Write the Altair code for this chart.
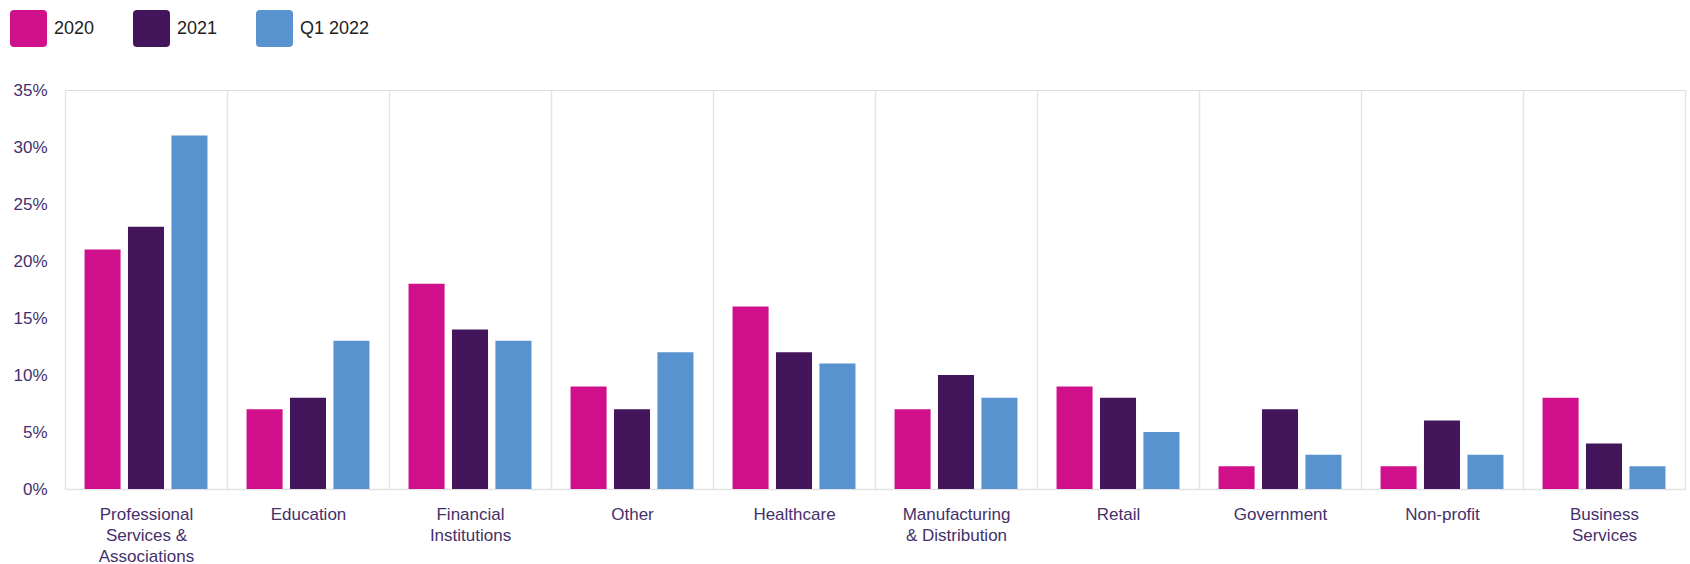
import altair as alt
import pandas as pd

categories = [
    "Professional Services & Associations", "Education", "Financial Institutions",
    "Other", "Healthcare", "Manufacturing & Distribution", "Retail",
    "Government", "Non-profit", "Business Services",
]
label_lines = {
    "Professional Services & Associations": ["Professional", "Services &", "Associations"],
    "Financial Institutions": ["Financial", "Institutions"],
    "Manufacturing & Distribution": ["Manufacturing", "& Distribution"],
    "Business Services": ["Business", "Services"],
}
series = ["2020", "2021", "Q1 2022"]
values_2020 = [21, 7, 18, 9, 16, 7, 9, 2, 2, 8]
values_2021 = [23, 8, 14, 7, 12, 10, 8, 7, 6, 4]
values_q1_2022 = [31, 13, 13, 12, 11, 8, 5, 3, 3, 2]
colors = ["#d0108a", "#43155a", "#5893d0"]
y_ticks = [0, 0.05, 0.10, 0.15, 0.20, 0.25, 0.30, 0.35]

rows = []
for s, vals in zip(series, [values_2020, values_2021, values_q1_2022]):
    for c, v in zip(categories, vals):
        rows.append({"category": c, "series": s, "value": v / 100})
df = pd.DataFrame(rows)

# label expression for multi-line category labels
expr = "datum.value"
for k, lines in label_lines.items():
    arr = "[" + ",".join("'" + l + "'" for l in lines) + "]"
    expr = f"datum.value == '{k}' ? {arr} : ({expr})"

rounded = ("M-0.78,-1 L0.78,-1 Q1,-1 1,-0.78 L1,0.78 Q1,1 0.78,1 "
           "L-0.78,1 Q-1,1 -1,0.78 L-1,-0.78 Q-1,-1 -0.78,-1 Z")

text_color = "#45306b"

chart = alt.Chart(df).mark_bar().encode(
    x=alt.X("category:N", sort=categories, title=None,
            scale=alt.Scale(paddingInner=0, paddingOuter=0),
            axis=alt.Axis(labelAngle=0, labelExpr=expr, grid=True, tickBand="extent",
                          gridColor="#e6e1ec", gridWidth=1.5, ticks=False,
                          domainColor="#e3e3e3", domainWidth=1.5,
                          labelColor=text_color, labelFont="Liberation Sans",
                          labelFontSize=17, labelPadding=17, labelLineHeight=21,
                          labelBaseline="top")),
    xOffset=alt.XOffset("series:N", sort=series,
                        scale=alt.Scale(paddingInner=0.17, paddingOuter=0.45)),
    y=alt.Y("value:Q", title=None,
            scale=alt.Scale(domain=[0, 0.35], nice=False),
            axis=alt.Axis(format=".0%", values=y_ticks, grid=False, domain=False,
                          ticks=False, labelColor=text_color, labelFont="Liberation Sans",
                          labelFontSize=17, labelPadding=18)),
    color=alt.Color("series:N", sort=series,
                    scale=alt.Scale(domain=series, range=colors),
                    legend=alt.Legend(title=None, orient="none", direction="horizontal",
                                      legendX=-55, legendY=-80,
                                      symbolType=rounded, symbolSize=1369,
                                      symbolStrokeWidth=0, symbolOpacity=1,
                                      labelFont="Liberation Sans", labelFontSize=18,
                                      labelColor="#222222", labelOffset=7,
                                      columnPadding=38)),
).properties(
    width=1620, height=399,
    autosize=alt.AutoSizeParams(type="none"),
    padding={"left": 65, "top": 90, "right": 5, "bottom": 75},
).configure_view(stroke=None).configure(background="white")

chart.save("out.html", embed_options={"renderer": "svg", "actions": False})
